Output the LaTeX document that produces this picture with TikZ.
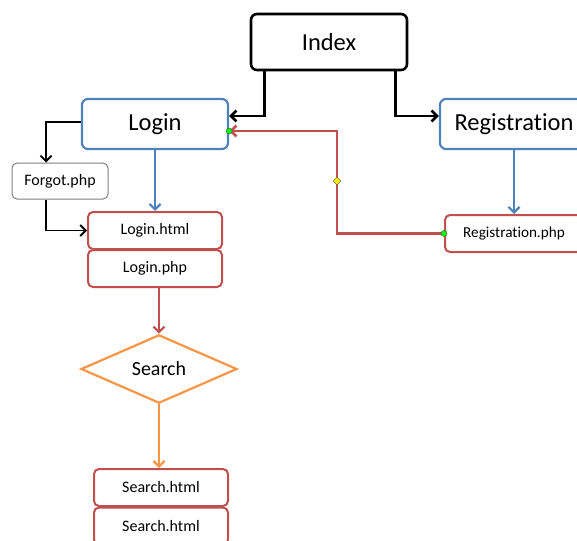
\documentclass[tikz,border=0pt]{standalone}
\usepackage{fontspec}
\setmainfont[Ligatures=NoCommon]{Carlito}
\usetikzlibrary{shapes.geometric,arrows.meta}

\definecolor{offblue}{HTML}{4F81BD}
\definecolor{offred}{HTML}{C0504D}
\definecolor{offorange}{HTML}{F79646}
\definecolor{offgray}{HTML}{7F7F7F}

\tikzset{
	bigbox/.style={draw,rounded corners=6pt,line width=2.2pt,inner sep=0pt,font=\fontsize{24.5}{28}\selectfont},
	filebox/.style={draw=offred,rounded corners=5pt,line width=2pt,inner sep=0pt,minimum width=134pt,minimum height=37pt,font=\fontsize{16}{19}\selectfont},
	flow/.style={line width=2.2pt,-{Straight Barb[length=5.5pt,width=11pt]}},
	handle/.style={draw=black!70,line width=0.4pt,inner sep=0pt}
}

\begin{document}
\begin{tikzpicture}[x=1pt,y=-1pt]
	\clip (0,0) rectangle (577,540);
	\fill[white] (0,0) rectangle (577,540);
	% boxes
	\node[bigbox,line width=2.6pt,minimum width=156pt,minimum height=56pt] (index) at (329,42) {Index};
	\node[bigbox,draw=offblue,minimum width=146pt,minimum height=50pt] (login) at (155,124) {Login};
	\node[bigbox,draw=offblue,minimum width=148pt,minimum height=50pt] (reg) at (514,124) {Registration};
	\node[draw=offgray,rounded corners=5pt,line width=1pt,minimum width=96pt,minimum height=36pt,inner sep=0pt,font=\fontsize{16}{19}\selectfont] (forgot) at (60,181) {Forgot.php};
	\node[filebox] (loginhtml) at (155,230.5) {Login.html};
	\node[filebox] (loginphp) at (155,268.5) {Login.php};
	\node[filebox,minimum width=138pt,font=\fontsize{15.2}{18}\selectfont] (regphp) at (514,233.5) {Registration.php};
	\node[draw=offorange,diamond,line width=2.2pt,inner sep=0pt,minimum width=156pt,minimum height=68pt,font=\fontsize{20}{24}\selectfont] (search) at (159,369) {Search};
	\node[filebox] (searchhtml) at (161,487.5) {Search.html};
	\node[filebox] (searchhtmlb) at (161,526) {Search.html};
	\coordinate (bend) at (337,181);
	% connectors
	\draw[flow,line width=2.6pt] ([xshift=15pt]index.south west) |- ([yshift=8pt]login.east);
	\draw[flow,line width=2.6pt] ([xshift=-13pt]index.south east) |- ([yshift=8pt]reg.west);
	\draw[flow,line width=1.8pt] ([yshift=2pt]login.west) -| ([xshift=-14pt]forgot.north);
	\draw[flow,line width=1.8pt] ([xshift=-14pt]forgot.south) |- (loginhtml.west);
	\draw[flow,draw=offblue] (login.south) -- (loginhtml.north);
	\draw[flow,draw=offblue] (reg.south) -- (reg.south |- regphp.north);
	\draw[flow,draw=offred,line width=2.6pt] (regphp.west) -| (bend) |- ([yshift=-7pt]login.east);
	\draw[flow,draw=offred] (loginphp.south -| search.north) -- (search.north);
	\draw[flow,draw=offorange] (search.south) -- (search.south |- searchhtml.north);
	% selection handles
	\node[handle,circle,fill=green,minimum size=6pt] (hreg) at (regphp.west) {};
	\node[handle,circle,fill=green,minimum size=6pt] (hlogin) at ([yshift=-7pt]login.east) {};
	\node[handle,diamond,fill=yellow,minimum size=8pt] (hbend) at (bend) {};
\end{tikzpicture}
\end{document}
